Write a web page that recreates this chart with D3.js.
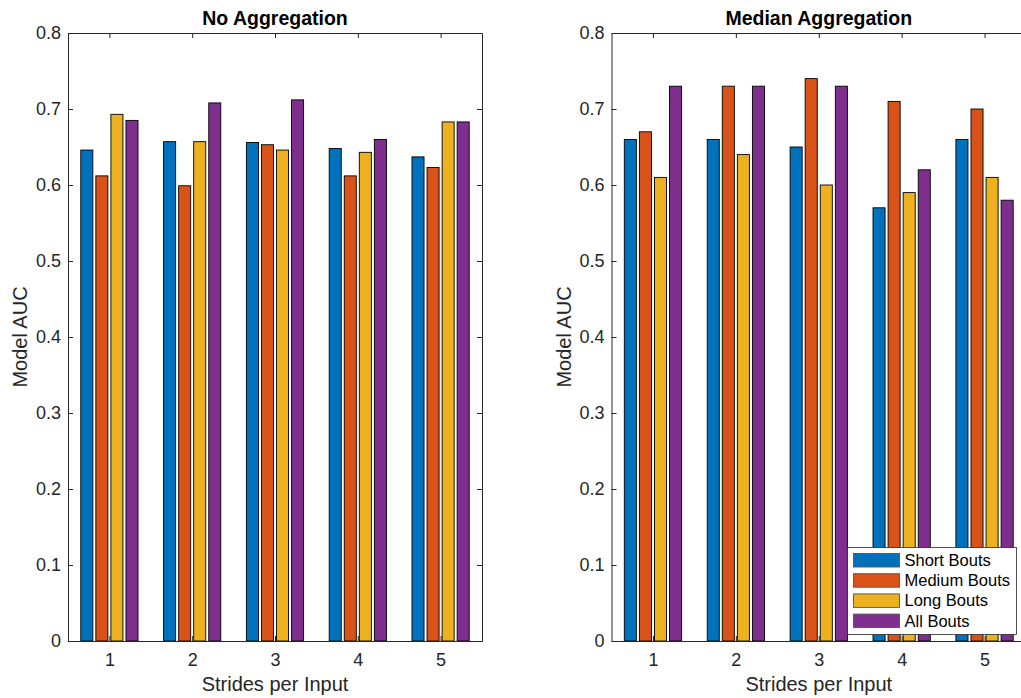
<!DOCTYPE html>
<html>
<head>
<meta charset="utf-8">
<script src="https://cdn.jsdelivr.net/npm/d3@7"></script>
<style>
  html, body { margin: 0; padding: 0; background: #fff; }
  svg { display: block; font-family: "Liberation Sans", Arial, Helvetica, sans-serif; }
</style>
</head>
<body>
<svg id="chart" width="1021" height="698"></svg>
<script>
// ---------- data ----------
const strides = [1, 2, 3, 4, 5];
const seriesNames = ["Short Bouts", "Medium Bouts", "Long Bouts", "All Bouts"];
const seriesColors = ["#0072BD", "#D95319", "#EDB120", "#7E2F8E"];

const noAggShort  = [0.646, 0.657, 0.656, 0.648, 0.637];
const noAggMedium = [0.612, 0.599, 0.653, 0.612, 0.623];
const noAggLong   = [0.693, 0.657, 0.646, 0.643, 0.683];
const noAggAll    = [0.685, 0.708, 0.712, 0.660, 0.683];

const medShort  = [0.66, 0.66, 0.65, 0.57, 0.66];
const medMedium = [0.67, 0.73, 0.74, 0.71, 0.70];
const medLong   = [0.61, 0.64, 0.60, 0.59, 0.61];
const medAll    = [0.73, 0.73, 0.73, 0.62, 0.58];

const yTicks = [0, 0.1, 0.2, 0.3, 0.4, 0.5, 0.6, 0.7, 0.8];
const yTickLabels = ["0", "0.1", "0.2", "0.3", "0.4", "0.5", "0.6", "0.7", "0.8"];
const xTickLabels = ["1", "2", "3", "4", "5"];

const titles = ["No Aggregation", "Median Aggregation"];
const xLabel = "Strides per Input";
const yLabel = "Model AUC";

// ---------- layout ----------
const svg = d3.select("#chart");
const axisColor = "#262626";
const panels = [
  { x0: 68, x1: 482, series: [noAggShort, noAggMedium, noAggLong, noAggAll], title: titles[0], legend: false },
  { x0: 611.5, x1: 1026, series: [medShort, medMedium, medLong, medAll], title: titles[1], legend: true }
];
const yTop = 33, yBot = 641;

panels.forEach(p => {
  const g = svg.append("g");
  const x = d3.scaleLinear().domain([0.5, 5.5]).range([p.x0, p.x1]);
  const y = d3.scaleLinear().domain([0, 0.8]).range([yBot, yTop]);

  const nS = p.series.length;
  const groupW = Math.min(0.8, nS / (nS + 1.5));
  const slot = groupW / nS;
  const barW = slot * 0.8;

  // bars
  p.series.forEach((vals, si) => {
    g.append("g").selectAll("rect")
      .data(vals)
      .join("rect")
      .attr("x", (d, i) => x(strides[i] - groupW / 2 + slot * si + (slot - barW) / 2))
      .attr("width", (d, i) => x(strides[i] + barW) - x(strides[i]))
      .attr("y", d => y(d))
      .attr("height", d => y(0) - y(d))
      .attr("fill", seriesColors[si])
      .attr("stroke", "#000")
      .attr("stroke-width", 0.9);
  });

  // axes
  const fmt = (d, i) => yTickLabels[yTicks.indexOf(d)];
  const left = g.append("g").attr("transform", `translate(${p.x0},0)`)
    .call(d3.axisLeft(y).tickValues(yTicks).tickFormat(fmt).tickSize(-5).tickPadding(7).tickSizeOuter(0));
  const right = g.append("g").attr("transform", `translate(${p.x1},0)`)
    .call(d3.axisRight(y).tickValues(yTicks).tickFormat("").tickSize(-5).tickSizeOuter(0));
  const bottom = g.append("g").attr("transform", `translate(0,${yBot})`)
    .call(d3.axisBottom(x).tickValues(strides).tickFormat((d, i) => xTickLabels[i]).tickSize(-5).tickPadding(12).tickSizeOuter(0));
  const top = g.append("g").attr("transform", `translate(0,${yTop})`)
    .call(d3.axisTop(x).tickValues(strides).tickFormat("").tickSize(-5).tickSizeOuter(0));

  [left, right, bottom, top].forEach(a => {
    a.selectAll("path.domain").attr("stroke", axisColor).attr("stroke-width", 1);
    a.selectAll(".tick line").attr("stroke", axisColor).attr("stroke-width", 1);
    a.selectAll(".tick text").attr("fill", axisColor).style("font-size", "18px")
      .style("font-family", '"Liberation Sans", Arial, Helvetica, sans-serif');
  });

  // title
  g.append("text")
    .attr("x", (p.x0 + p.x1) / 2).attr("y", 25)
    .attr("text-anchor", "middle")
    .style("font-size", "19.5px").style("font-weight", "bold").attr("fill", "#000")
    .text(p.title);

  // x label
  g.append("text")
    .attr("x", (p.x0 + p.x1) / 2).attr("y", 690.5)
    .attr("text-anchor", "middle")
    .style("font-size", "20px").attr("fill", axisColor)
    .text(xLabel);

  // y label
  g.append("text")
    .attr("transform", `translate(${p.x0 - 41},${(yTop + yBot) / 2}) rotate(-90)`)
    .attr("text-anchor", "middle")
    .style("font-size", "20px").attr("fill", axisColor)
    .text(yLabel);

  // legend
  if (p.legend) {
    const lg = svg.append("g").attr("transform", "translate(847.5,547.5)");
    lg.append("rect").attr("width", 169).attr("height", 87)
      .attr("fill", "#fff").attr("stroke", axisColor).attr("stroke-width", 0.8);
    seriesNames.forEach((name, i) => {
      const row = lg.append("g").attr("transform", `translate(0,${6 + i * 20.2})`);
      row.append("rect").attr("x", 6).attr("y", 0).attr("width", 46).attr("height", 13.5)
        .attr("fill", seriesColors[i]).attr("stroke", "#555").attr("stroke-width", 0.9);
      row.append("text").attr("x", 57).attr("y", 6.75).attr("dy", "0.35em")
        .style("font-size", "16.5px").attr("fill", "#000").text(name);
    });
  }
});
</script>
</body>
</html>
